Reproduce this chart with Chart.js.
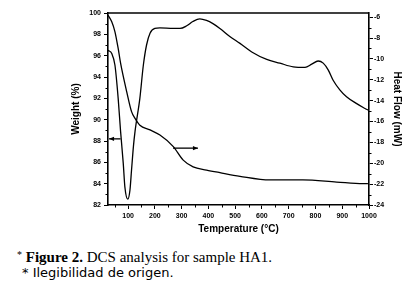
<!DOCTYPE html>
<html lang="en">
<head>
    <meta charset="UTF-8">
    <title>DCS analysis HA1</title>
    <script src="https://cdn.jsdelivr.net/npm/chart.js"></script>
    <style>
        body { margin: 0; background: #fff; width: 407px; height: 288px; position: relative; overflow: hidden; }
        #chartBox { position: absolute; left: 0; top: 0; }
        .cap1 { position: absolute; left: 17px; top: 246px; font: 15px "Liberation Serif", "Times New Roman", serif; line-height: 17px; color: #000; white-space: nowrap; }
        .cap1 sup { font-size: 10px; vertical-align: 4px; }
        .cap2 { position: absolute; left: 22px; top: 265px; font: 13px "DejaVu Sans", Verdana, sans-serif; line-height: 15px; color: #000; white-space: nowrap; }
    </style>
</head>
<body>
    <div id="chartBox"><canvas id="dscChart" width="407" height="239"></canvas></div>
    <div class="cap1"><sup>*</sup> <b>Figure 2.</b> DCS analysis for sample HA1.</div>
    <div class="cap2">* Ilegibilidad de origen.</div>
    <script>
        // curve with the endothermic dip (left axis, arrow pointing left)
        const dipTemp = [25, 39, 51, 63, 72, 82, 88, 99, 107, 113, 120, 126, 144, 157, 169, 182, 200, 219, 268, 294, 319, 342, 368, 393, 417, 443, 480, 518, 562, 618, 667, 717, 761, 786, 810, 829, 848, 866, 891, 916, 954, 985, 996];
        const dipWeight = [96.5, 96.2, 95.1, 92.0, 88.9, 85.9, 83.7, 82.55, 83.4, 85.3, 87.5, 88.9, 92.0, 95.1, 97.0, 98.1, 98.55, 98.6, 98.55, 98.55, 98.8, 99.2, 99.45, 99.3, 99.0, 98.55, 97.8, 97.15, 96.35, 95.65, 95.3, 94.95, 94.9, 95.2, 95.5, 95.3, 94.65, 93.7, 92.8, 92.15, 91.5, 91.05, 90.9];

        // gradual curve (right axis, arrow pointing right)
        const flowTemp = [25, 39, 51, 63, 72, 95, 113, 126, 144, 182, 219, 269, 306, 343, 393, 443, 518, 630, 753, 879, 978, 996];
        const flowHeat = [-5.8, -6.45, -7.4, -9.0, -10.4, -13.15, -15.05, -15.7, -16.35, -16.8, -17.3, -18.4, -19.7, -20.35, -20.65, -20.9, -21.25, -21.6, -21.6, -21.8, -21.95, -21.95];

        const tempRange = [25, 1000];
        const weightRange = [82, 100];
        const heatRange = [-24, -5.6];

        const tickFont = { family: '"Liberation Sans", Arial, sans-serif', size: 7, weight: 'bold' };
        const titleFont = { family: '"Liberation Sans", Arial, sans-serif', size: 10, weight: 'bold' };

        // frame, minor ticks and the two arrows
        const extras = {
            id: 'extras',
            afterDraw(chart) {
                const ctx = chart.ctx;
                const a = chart.chartArea;
                ctx.save();
                ctx.strokeStyle = '#000';
                ctx.fillStyle = '#000';
                ctx.lineWidth = 1.6;
                ctx.beginPath();
                ctx.moveTo(a.left, a.top);
                ctx.lineTo(a.right, a.top);
                ctx.stroke();

                ctx.lineWidth = 1;
                function minors(scale) {
                    const t = scale.ticks.map(k => k.value);
                    const step = t[1] - t[0];
                    const out = [];
                    for (let v = t[0] - step / 2; v <= scale.max; v += step) {
                        if (v >= scale.min) out.push(v);
                    }
                    return out;
                }
                const sx = chart.scales.x, sy = chart.scales.y, sy1 = chart.scales.y1;
                ctx.beginPath();
                minors(sx).forEach(v => {
                    const p = Math.round(sx.getPixelForValue(v)) + 0.5;
                    ctx.moveTo(p, a.bottom); ctx.lineTo(p, a.bottom + 2.5);
                });
                minors(sy).forEach(v => {
                    const p = Math.round(sy.getPixelForValue(v)) + 0.5;
                    ctx.moveTo(a.left, p); ctx.lineTo(a.left - 2.5, p);
                });
                minors(sy1).forEach(v => {
                    const p = Math.round(sy1.getPixelForValue(v)) + 0.5;
                    ctx.moveTo(a.right, p); ctx.lineTo(a.right + 2.5, p);
                });
                ctx.stroke();

                function arrow(x1, x2, y, headLeft) {
                    ctx.lineWidth = 1.3;
                    ctx.beginPath();
                    ctx.moveTo(x1, y); ctx.lineTo(x2, y);
                    ctx.stroke();
                    const hx = headLeft ? x1 : x2;
                    const d = headLeft ? 5 : -5;
                    ctx.beginPath();
                    ctx.moveTo(hx, y);
                    ctx.lineTo(hx + d, y - 2.2);
                    ctx.lineTo(hx + d, y + 2.2);
                    ctx.closePath();
                    ctx.fill();
                }
                const ay = sy.getPixelForValue(88.2);
                arrow(sx.getPixelForValue(29), sx.getPixelForValue(72), ay, true);
                const by = sy1.getPixelForValue(-18.55);
                arrow(sx.getPixelForValue(268), sx.getPixelForValue(361), by, false);
                ctx.restore();
            }
        };

        const axisBorder = { display: true, color: '#000', width: 1.6 };
        const axisGrid = { display: true, drawOnChartArea: false, drawTicks: true, tickLength: 4, color: '#000', lineWidth: 1 };
        const plainLabel = v => String(v);

        new Chart(document.getElementById('dscChart').getContext('2d'), {
            type: 'line',
            data: {
                datasets: [{
                    label: 'Weight (%)',
                    data: dipTemp.map((t, i) => ({ x: t, y: dipWeight[i] })),
                    yAxisID: 'y',
                    borderColor: '#000',
                    borderWidth: 1.3,
                    pointRadius: 0,
                    cubicInterpolationMode: 'monotone'
                }, {
                    label: 'Heat Flow (mW)',
                    data: flowTemp.map((t, i) => ({ x: t, y: flowHeat[i] })),
                    yAxisID: 'y1',
                    borderColor: '#000',
                    borderWidth: 1.3,
                    pointRadius: 0,
                    cubicInterpolationMode: 'monotone'
                }]
            },
            options: {
                responsive: false,
                animation: false,
                layout: { padding: { left: 66, top: 13, right: 0, bottom: 0 } },
                plugins: { legend: { display: false }, tooltip: { enabled: false } },
                scales: {
                    x: {
                        type: 'linear',
                        min: tempRange[0],
                        max: tempRange[1],
                        border: axisBorder,
                        grid: axisGrid,
                        ticks: { stepSize: 100, includeBounds: false, color: '#000', font: tickFont, padding: 3, maxRotation: 0, callback: plainLabel },
                        title: { display: true, text: 'Temperature (°C)', color: '#000', font: titleFont },
                        afterFit: s => { s.height = 34; }
                    },
                    y: {
                        position: 'left',
                        min: weightRange[0],
                        max: weightRange[1],
                        border: axisBorder,
                        grid: axisGrid,
                        ticks: { stepSize: 2, includeBounds: false, color: '#000', font: tickFont, padding: 3, callback: plainLabel },
                        title: { display: true, text: 'Weight (%)', color: '#000', font: titleFont },
                        afterFit: s => { s.width = 42; }
                    },
                    y1: {
                        position: 'right',
                        min: heatRange[0],
                        max: heatRange[1],
                        border: axisBorder,
                        grid: axisGrid,
                        ticks: { stepSize: 2, includeBounds: false, color: '#000', font: tickFont, padding: 1, callback: plainLabel },
                        title: { display: true, text: 'Heat Flow (mW)', color: '#000', font: titleFont },
                        afterFit: s => { s.width = 38; }
                    }
                }
            },
            plugins: [extras]
        });
    </script>
</body>
</html>
